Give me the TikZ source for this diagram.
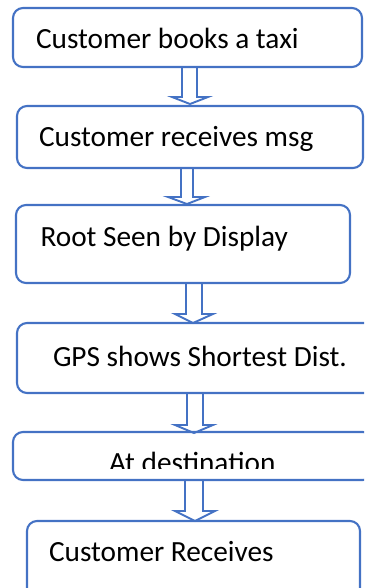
\documentclass[tikz,border=0pt]{standalone}
\usepackage{fontspec}
\setmainfont{Carlito}
\definecolor{msblue}{HTML}{4472C4}
\tikzset{
  box/.style={draw=msblue, line width=2.1pt, rounded corners=10pt, anchor=north west, inner sep=0pt, outer sep=0pt},
  txt/.style={anchor=base west, inner sep=0pt, outer sep=0pt, font=\fontsize{29.3}{34}\selectfont, text=black},
  barrow/.style={draw=msblue, line width=1.9pt, line join=miter}
}
\begin{document}
\begin{tikzpicture}[x=1pt,y=-1pt]
\useasboundingbox (0,0) rectangle (364,588);
\clip (0,0) rectangle (364,588);
% boxes
\node[box, minimum width=349, minimum height=59] (b1) at (13,8) {};
\node[box, minimum width=346, minimum height=62] (b2) at (17,106) {};
\node[box, minimum width=334, minimum height=78] (b3) at (16,205) {};
\node[box, minimum width=360, minimum height=70] (b4) at (17,323) {};
\node[box, minimum width=360, minimum height=48] (b5) at (13,432) {};
\node[box, minimum width=333, minimum height=80] (b6) at (27,521) {};
% texts
\node[txt] (t1) at (36,48.5) {Customer books a taxi};
\node[txt] (t2) at (39,146.5) {Customer receives msg};
\node[txt] (t3) at (40.5,246.5) {Root Seen by Display};
\node[txt] (t4) at (53,366.5) {GPS shows Shortest Dist.};
\begin{scope}
\clip (0,433) rectangle (364,468);
\node[txt] (t5) at (109,472) {At destination};
\end{scope}
\node[txt] (t6) at (49,561.5) {Customer Receives};
% block arrows
\draw[barrow] (182,67) -- (182,97) -- (172,97) -- (190,104) -- (208,97) -- (197,97) -- (197,67);
\draw[barrow] (181,168) -- (181,197) -- (168,197) -- (187,204) -- (205,197) -- (193,197) -- (193,168);
\draw[barrow] (186,283) -- (186,314) -- (175,314) -- (193,323) -- (213,314) -- (202,314) -- (202,283);
\draw[barrow] (187,393) -- (187,425) -- (175,425) -- (194,433) -- (213,425) -- (203,425) -- (203,393);
\draw[barrow] (185,480) -- (185,511) -- (175,511) -- (195,521) -- (215,511) -- (203,511) -- (203,480);
\end{tikzpicture}
\end{document}
